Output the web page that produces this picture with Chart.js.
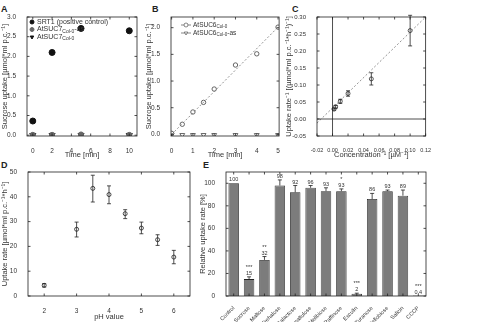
<!DOCTYPE html>
<html>
<head>
<meta charset="utf-8">
<script src="https://cdn.jsdelivr.net/npm/chart.js@4.4.1/dist/chart.umd.min.js"></script>
<style>
  body { margin: 0; background: #fff; width: 500px; height: 322px; position: relative; overflow: hidden; font-family: "Liberation Sans", Arial, sans-serif; }
  canvas { position: absolute; }
  .lab { position: absolute; font-weight: bold; font-size: 9px; color: #222; }
</style>
</head>
<body>
<div class="lab" style="left:1px;top:4px">A</div>
<div class="lab" style="left:152px;top:4px">B</div>
<div class="lab" style="left:292px;top:4px">C</div>
<div class="lab" style="left:1px;top:160px">D</div>
<div class="lab" style="left:203px;top:160px">E</div>

<canvas id="cA" style="left:0;top:0" width="144" height="160"></canvas>
<canvas id="cB" style="left:144px;top:0" width="140" height="160"></canvas>
<canvas id="cC" style="left:284px;top:0" width="150" height="160"></canvas>
<canvas id="cD" style="left:0;top:160px" width="198" height="162"></canvas>
<canvas id="cE" style="left:198px;top:160px" width="240" height="162"></canvas>

<script>
// ---- data ----
// A: sucrose uptake over time
const timeA = [0, 2, 5, 10];
const srt1A = [0.36, 2.10, 2.71, 2.65];
const suc7asA = [0.01, 0.01, 0.02, 0.01];
const suc7A = [0, 0, 0, 0];
const xTicksA = [0, 2, 4, 6, 8, 10];
const yTicksA = [0, 0.5, 1.0, 1.5, 2.0, 2.5, 3.0];

// B: AtSUC6 time course
const timeB = [0, 0.5, 1, 1.5, 2, 3, 4, 5];
const suc6B = [0.02, 0.19, 0.42, 0.60, 0.85, 1.30, 1.51, 2.01];
const suc6asB = [-0.01, -0.01, -0.01, -0.01, -0.01, -0.01, -0.01, -0.01];
const fitTimeB = [0, 5];
const fitValB = [0.0, 2.01];
const xTicksB = [0, 1, 2, 3, 4, 5];
const yTicksB = [0, 0.5, 1.0, 1.5, 2.0];

// C: Lineweaver-Burk
const concC = [0.002, 0.004, 0.01, 0.02, 0.05, 0.1];
const rateC = [0.029, 0.036, 0.052, 0.075, 0.118, 0.26];
const errC = [0.003, 0.004, 0.006, 0.008, 0.018, 0.045];
const fitConcC = [-0.02, 0.12];
const fitRateC = [-0.012, 0.30];
const xTicksC = [-0.02, 0, 0.02, 0.04, 0.06, 0.08, 0.10, 0.12];
const yTicksC = [-0.05, 0, 0.05, 0.10, 0.15, 0.20, 0.25, 0.30];

// D: pH dependence
const phD = [2, 3, 3.5, 4, 4.5, 5, 5.5, 6];
const rateD = [4.3, 26.9, 43.4, 40.9, 33.2, 27.4, 22.7, 15.7];
const loD = [3.6, 23.8, 37.9, 37.2, 31.2, 25.1, 20.4, 13.0];
const hiD = [5.0, 29.8, 48.7, 44.4, 34.8, 29.8, 24.7, 18.4];
const xTicksD = [2, 3, 4, 5, 6];
const yTicksD = [0, 10, 20, 30, 40, 50];

// E: competition
const sugarsE = ['Control', 'Sucrose', 'Maltose', 'Trehalose', 'Galactose', 'Isomaltulose', 'Melibiose', 'Raffinose', 'Esculin', 'Turanose', 'Cellobiose', 'Salicin', 'CCCP'];
const relE = [100, 15, 32, 98, 92, 96, 93, 93, 2, 86, 93, 89, 0.4];
const errE = [0, 2, 3, 5, 6, 2, 3, 2, 0.5, 5, 1, 5, 0];
const starsE = ['', '***', '**', '', '', '', '', '*', '***', '', '', '', '***'];
const yTicksE = [0, 20, 40, 60, 80, 100];

const ink = '#333';
const fontFam = '"Liberation Sans", Arial, sans-serif';
Chart.defaults.font.family = fontFam;
Chart.defaults.color = ink;
Chart.defaults.animation = false;

const pts = (xs, ys) => xs.map((x, i) => ({ x, y: ys[i] }));

// box with inward ticks on all four sides
const framePlugin = {
  id: 'frame',
  afterDraw(chart) {
    const { ctx, chartArea: a, scales } = chart;
    const L = 2.5;
    ctx.save();
    ctx.strokeStyle = '#222';
    ctx.lineWidth = 0.8;
    ctx.strokeRect(a.left, a.top, a.right - a.left, a.bottom - a.top);
    ctx.beginPath();
    scales.x.ticks.forEach((t, i) => {
      const px = scales.x.getPixelForTick(i);
      ctx.moveTo(px, a.bottom); ctx.lineTo(px, a.bottom - L);
      ctx.moveTo(px, a.top); ctx.lineTo(px, a.top + L);
    });
    scales.y.ticks.forEach((t, i) => {
      const py = scales.y.getPixelForTick(i);
      ctx.moveTo(a.left, py); ctx.lineTo(a.left + L, py);
      ctx.moveTo(a.right, py); ctx.lineTo(a.right - L, py);
    });
    ctx.stroke();
    ctx.restore();
  }
};

// vertical error bars from errLo/errHi arrays on a dataset
const errorPlugin = {
  id: 'errbars',
  afterDatasetsDraw(chart) {
    const { ctx } = chart;
    const ys = chart.scales.y;
    chart.data.datasets.forEach((ds, di) => {
      if (!ds.errHi) return;
      const meta = chart.getDatasetMeta(di);
      ctx.save();
      ctx.strokeStyle = '#222';
      ctx.lineWidth = 0.8;
      meta.data.forEach((el, i) => {
        const top = ys.getPixelForValue(ds.errHi[i]);
        const bot = ds.errLo ? ys.getPixelForValue(ds.errLo[i]) : el.y;
        if (Math.abs(bot - top) < 0.5) return;
        ctx.beginPath();
        ctx.moveTo(el.x, top); ctx.lineTo(el.x, bot);
        ctx.moveTo(el.x - 2, top); ctx.lineTo(el.x + 2, top);
        if (ds.errLo) { ctx.moveTo(el.x - 2, bot); ctx.lineTo(el.x + 2, bot); }
        ctx.stroke();
      });
      ctx.restore();
    });
  }
};

// legend inside the plot, label text may hold a _{subscript}
function drawRich(ctx, text, x, y, size) {
  const parts = text.split(/(_\{[^}]*\})/);
  parts.forEach(p => {
    if (!p) return;
    if (p.startsWith('_{')) {
      const s = p.slice(2, -1);
      ctx.font = (size - 2) + 'px ' + fontFam;
      ctx.fillText(s, x, y + 2);
      x += ctx.measureText(s).width;
    } else {
      ctx.font = size + 'px ' + fontFam;
      ctx.fillText(p, x, y);
      x += ctx.measureText(p).width;
    }
  });
}

const legendPlugin = {
  id: 'insideLegend',
  afterDraw(chart, args, o) {
    if (!o.show) return;
    const ctx = chart.ctx;
    const a = chart.chartArea;
    ctx.save();
    ctx.textBaseline = 'middle';
    o.datasets.forEach((di, i) => {
      const ds = chart.data.datasets[di];
      const x = a.left + o.dx, y = a.top + o.dy + i * o.step;
      ctx.strokeStyle = ds.borderColor;
      ctx.fillStyle = ds.backgroundColor;
      if (o.line) {
        ctx.lineWidth = 0.7;
        ctx.beginPath(); ctx.moveTo(x - 5, y); ctx.lineTo(x + 5, y); ctx.stroke();
      }
      Chart.helpers.drawPoint(ctx, {
        pointStyle: ds.pointStyle, rotation: ds.rotation || 0,
        radius: o.r, borderWidth: ds.borderWidth || 1
      }, x, y);
      ctx.fillStyle = ink;
      drawRich(ctx, ds.label, x + o.tx, y, o.size);
    });
    ctx.restore();
  }
};

// value + significance labels above bars
const barLabelPlugin = {
  id: 'barLabels',
  afterDatasetsDraw(chart, args, o) {
    if (!o.show) return;
    const { ctx } = chart;
    const ys = chart.scales.y;
    const ds = chart.data.datasets[0];
    const meta = chart.getDatasetMeta(0);
    ctx.save();
    ctx.fillStyle = ink;
    ctx.textAlign = 'center';
    ctx.textBaseline = 'alphabetic';
    ctx.font = '5.5px ' + fontFam;
    meta.data.forEach((el, i) => {
      const top = ys.getPixelForValue(ds.errHi[i]) - 2;
      ctx.fillText(String(ds.data[i]), el.x, top);
      if (ds.stars[i]) ctx.fillText(ds.stars[i], el.x, top - 6);
    });
    ctx.restore();
  }
};

Chart.register(framePlugin, errorPlugin, legendPlugin, barLabelPlugin);

function axis(type, min, max, ticks, digits, title, fit, tickFont, extra) {
  const ax = {
    type, min, max,
    grid: { display: false },
    border: { display: false },
    afterFit: fit,
    ticks: { padding: 3, font: { size: tickFont || 6.5 }, color: ink, maxRotation: 0, minRotation: 0, autoSkip: false },
    title: { display: !!title, text: title, font: { size: 7.5 }, color: ink, padding: { top: 0, bottom: 1 } }
  };
  if (ticks) {
    ax.afterBuildTicks = s => { s.ticks = ticks.map(v => ({ value: v })); };
    ax.ticks.callback = v => digits == null ? String(v) : Number(v).toFixed(digits);
  }
  return Object.assign(ax, extra || {});
}

function scatterChart(id, area, x, y, datasets, legend) {
  const cv = document.getElementById(id);
  const W = cv.width, H = cv.height;
  return new Chart(cv, {
    type: 'scatter',
    data: { datasets },
    options: {
      responsive: false,
      devicePixelRatio: 1,
      layout: { padding: { left: 0, top: area.top, right: W - area.right, bottom: 0 } },
      scales: {
        x: axis('linear', x.min, x.max, x.ticks, x.digits, x.title, s => { s.height = H - area.bottom; }, x.font),
        y: axis('linear', y.min, y.max, y.ticks, y.digits, y.title, s => { s.width = area.left; }, y.font)
      },
      plugins: {
        legend: { display: false },
        tooltip: { enabled: false },
        insideLegend: legend || { show: false }
      }
    }
  });
}

// ---- A ----
scatterChart('cA', { left: 27, right: 137, top: 17, bottom: 136 },
  { min: -0.6, max: 10.8, ticks: xTicksA, digits: null, title: 'Time [min]' },
  { min: -0.02, max: 3.0, ticks: yTicksA, digits: 1, title: 'Sucrose uptake [\u00b5mol*ml p.c.\u207b\u00b9]' },
  [
    { label: 'SRT1 (positive control)', data: pts(timeA, srt1A), pointStyle: 'circle', pointRadius: 3,
      backgroundColor: '#111', borderColor: '#111', borderWidth: 1 },
    { label: 'AtSUC7_{Col-0}-as', data: pts(timeA, suc7asA), pointStyle: 'circle', pointRadius: 2.5,
      backgroundColor: '#666', borderColor: '#666', borderWidth: 1 },
    { label: 'AtSUC7_{Col-0}', data: pts(timeA, suc7A), pointStyle: 'triangle', rotation: 180, pointRadius: 3.5,
      backgroundColor: '#111', borderColor: '#111', borderWidth: 1 }
  ],
  { show: true, datasets: [0, 1, 2], dx: 5, dy: 5, step: 7.5, r: 2, tx: 5, size: 7 }
);

// ---- B ----
scatterChart('cB', { left: 27, right: 136, top: 17, bottom: 136 },
  { min: -0.03, max: 5.05, ticks: xTicksB, digits: null, title: 'Time [min]' },
  { min: -0.03, max: 2.2, ticks: yTicksB, digits: 1, title: 'Sucrose uptake [\u00b5mol*ml p.c.\u207b\u00b9]' },
  [
    { label: 'fit', data: pts(fitTimeB, fitValB), showLine: true, pointRadius: 0,
      borderColor: '#777', borderWidth: 0.8, borderDash: [2, 2] },
    { label: 'AtSUC6_{Col-0}', data: pts(timeB, suc6B), pointStyle: 'circle', pointRadius: 2.2,
      backgroundColor: '#fff', borderColor: '#555', borderWidth: 0.9 },
    { label: 'AtSUC6_{Col-0}-as', data: pts(timeB, suc6asB), pointStyle: 'triangle', rotation: 180, pointRadius: 2.8,
      backgroundColor: '#fff', borderColor: '#555', borderWidth: 0.9 }
  ],
  { show: true, datasets: [1, 2], dx: 15, dy: 8, step: 8, r: 2, tx: 7, size: 6.5, line: true }
);

// ---- C ----
scatterChart('cC', { left: 33, right: 142, top: 17, bottom: 136 },
  { min: -0.02, max: 0.12, ticks: xTicksC, digits: 2, title: 'Concentration\u207b\u00b9 [\u00b5M\u207b\u00b9]', font: 5.5 },
  { min: -0.05, max: 0.30, ticks: yTicksC, digits: 2, title: 'Uptake rate\u207b\u00b9 [(\u00b5mol*ml p.c.\u207b\u00b9*h\u207b\u00b9)\u207b\u00b9]', font: 6 },
  [
    { label: 'y0', data: pts(fitConcC, [0, 0]), showLine: true, pointRadius: 0, borderColor: '#222', borderWidth: 0.8 },
    { label: 'x0', data: pts([0, 0], [-0.05, 0.30]), showLine: true, pointRadius: 0, borderColor: '#222', borderWidth: 0.8 },
    { label: 'fit', data: pts(fitConcC, fitRateC), showLine: true, pointRadius: 0,
      borderColor: '#777', borderWidth: 0.8, borderDash: [2, 2] },
    { label: 'rate', data: pts(concC, rateC), pointStyle: 'circle', pointRadius: 2,
      backgroundColor: '#fff', borderColor: '#444', borderWidth: 0.9,
      errLo: rateC.map((v, i) => v - errC[i]), errHi: rateC.map((v, i) => v + errC[i]) }
  ]
);

// ---- D ----
scatterChart('cD', { left: 28, right: 190, top: 12, bottom: 136 },
  { min: 1.5, max: 6.5, ticks: xTicksD, digits: null, title: 'pH value' },
  { min: 0, max: 50, ticks: yTicksD, digits: null, title: 'Uptake rate [\u00b5mol*ml p.c.\u207b\u00b9*h\u207b\u00b9]' },
  [
    { label: 'rate', data: pts(phD, rateD), pointStyle: 'circle', pointRadius: 2,
      backgroundColor: '#fff', borderColor: '#333', borderWidth: 0.9, errLo: loD, errHi: hiD }
  ]
);

// ---- E ----
(function () {
  const cv = document.getElementById('cE');
  const W = cv.width, H = cv.height;
  const area = { left: 28, right: 228, top: 12, bottom: 136 };
  new Chart(cv, {
    type: 'bar',
    data: {
      labels: sugarsE,
      datasets: [{
        data: relE, errHi: relE.map((v, i) => v + errE[i]), stars: starsE,
        backgroundColor: '#7c7c7c', borderColor: '#222', borderWidth: 0.8,
        barPercentage: 0.68, categoryPercentage: 1
      }]
    },
    options: {
      responsive: false,
      devicePixelRatio: 1,
      layout: { padding: { left: 0, top: area.top, right: W - area.right, bottom: 0 } },
      scales: {
        x: axis('category', undefined, undefined, null, null, '', s => { s.height = H - area.bottom; }, 5.5,
          { ticks: { padding: 1, font: { size: 5.5 }, color: ink, minRotation: 45, maxRotation: 45, autoSkip: false } }),
        y: axis('linear', 0, 110, yTicksE, null, 'Relative uptake rate [%]', s => { s.width = area.left; })
      },
      plugins: {
        legend: { display: false },
        tooltip: { enabled: false },
        insideLegend: { show: false },
        barLabels: { show: true }
      }
    }
  });
})();
</script>
</body>
</html>
